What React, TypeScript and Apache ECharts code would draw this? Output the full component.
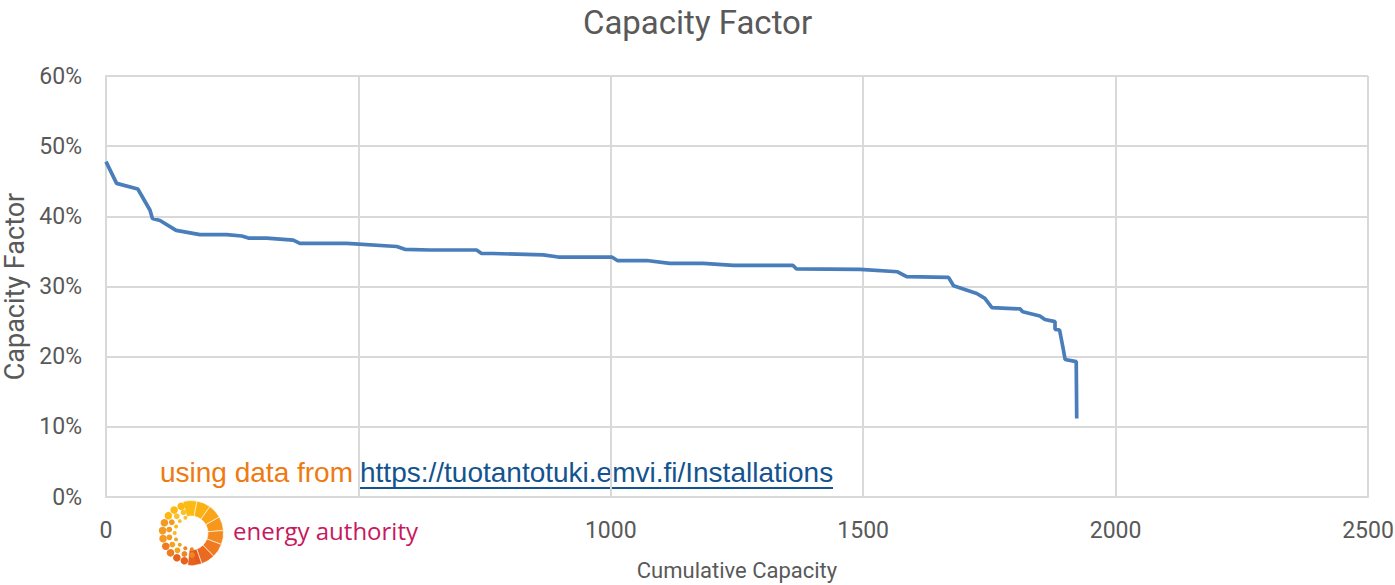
import React, { useEffect, useRef } from "react";
import * as echarts from "echarts";

const chartTitle = "Capacity Factor";
const xAxisName = "Cumulative Capacity";
const yAxisName = "Capacity Factor";
const sourcePrefix = "using data from ";
const sourceUrl = "https://tuotantotuki.emvi.fi/Installations";
const logoText = "energy authority";

// cumulative capacity (x) and capacity factor in % (y)
const capacity = [
  0, 21, 63, 87, 92, 107, 139, 186, 239, 269,
  282, 318, 371, 384, 477, 576, 592, 642, 734, 744,
  767, 866, 896, 1002, 1013, 1071, 1117, 1183, 1243, 1361,
  1368, 1494, 1568, 1586, 1669, 1679, 1725, 1741, 1755, 1811,
  1816, 1850, 1860, 1880, 1880, 1889, 1896, 1900, 1922, 1923,
];
const factor = [
  47.8, 44.7, 43.9, 40.9, 39.7, 39.4, 38.0, 37.4, 37.4, 37.2,
  36.9, 36.9, 36.6, 36.15, 36.15, 35.7, 35.3, 35.2, 35.2, 34.7,
  34.7, 34.5, 34.2, 34.2, 33.7, 33.7, 33.3, 33.3, 33.0, 33.0,
  32.5, 32.45, 32.1, 31.4, 31.3, 30.1, 29.0, 28.3, 27.0, 26.8,
  26.4, 25.8, 25.3, 25.0, 23.9, 23.8, 21.2, 19.6, 19.3, 11.2,
];

const xTicks = { min: 0, max: 2500, interval: 500 };
const yTicks = { min: 0, max: 60, interval: 10 };
// tick label hidden under the logo in the reference
const hiddenXTick = 500;

function buildLogo(cx: number, cy: number) {
  const els: any[] = [];
  const segColors = ["#FDBA12", "#FCB113", "#FAA519", "#F7981D", "#F38A20", "#EF7A22", "#EA6A1F", "#E55B1B"];
  const n = segColors.length;
  const start = -Math.PI / 2 - 0.25;
  const end = Math.PI / 2 + 0.1;
  for (let i = 0; i < n; i++) {
    const a0 = start + ((end - start) * i) / n;
    const a1 = start + ((end - start) * (i + 1)) / n;
    els.push({
      type: "sector",
      shape: { cx, cy, r0: 17, r: 32.5, startAngle: a0, endAngle: a1, clockwise: true },
      style: { fill: segColors[i], stroke: "#ffffff", lineWidth: 0.6 },
      silent: true,
    });
  }
  const rings = [
    { r: 28.5, dr: 3.8, count: 11 },
    { r: 22, dr: 2.9, count: 9 },
    { r: 16.3, dr: 2.0, count: 8 },
  ];
  rings.forEach((ring, ri) => {
    for (let k = 0; k < ring.count; k++) {
      const a = -Math.PI / 2 - 0.35 - ((Math.PI - 0.3) * k) / (ring.count - 1);
      const t = k / (ring.count - 1);
      let fill = "#F39323";
      if (t < 0.25) fill = ri === 0 ? "#FDB813" : "#FBC02D";
      else if (t < 0.55) fill = ri === 2 ? "#FBB81A" : "#F49A22";
      else if (t < 0.8) fill = ri === 0 ? "#EE7A23" : "#F5A21E";
      else fill = ri === 0 ? "#E8621D" : "#F08525";
      els.push({
        type: "circle",
        shape: { cx: cx + Math.cos(a) * ring.r, cy: cy + Math.sin(a) * ring.r, r: ring.dr },
        style: { fill },
        silent: true,
      });
    }
  });
  return els;
}

export default function App() {
  const ref = useRef<HTMLDivElement>(null);
  useEffect(() => {
    if (!ref.current) return;
    const chart = echarts.init(ref.current, null, { renderer: "svg" });
    const data = capacity.map((c, i) => [c, factor[i]]);
    const textColor = "#595959";
    const font = "Roboto, 'Liberation Sans', sans-serif";
    chart.setOption({
      animation: false,
      backgroundColor: "#ffffff",
      title: {
        text: chartTitle,
        left: "center",
        top: 1,
        textStyle: { fontFamily: font, fontSize: 33, fontWeight: "normal", color: textColor },
      },
      grid: { left: 106, right: 27, top: 76, bottom: 88, containLabel: false, outerBoundsMode: "none" },
      xAxis: {
        type: "value",
        min: xTicks.min,
        max: xTicks.max,
        interval: xTicks.interval,
        name: xAxisName,
        nameLocation: "middle",
        nameGap: 62,
        nameTextStyle: { fontFamily: font, fontSize: 22, color: textColor },
        axisLine: { show: true, lineStyle: { color: "#D9D9D9", width: 2 } },
        axisTick: { show: false },
        axisLabel: {
          fontFamily: font,
          fontSize: 23,
          color: textColor,
          margin: 22,
          formatter: (v: number) => (v === hiddenXTick ? "" : String(v)),
        },
        splitLine: { show: true, lineStyle: { color: "#D9D9D9", width: 2 } },
      },
      yAxis: {
        type: "value",
        min: yTicks.min,
        max: yTicks.max,
        interval: yTicks.interval,
        name: yAxisName,
        nameLocation: "middle",
        nameGap: 76,
        nameTextStyle: { fontFamily: font, fontSize: 27, color: textColor },
        axisLine: { show: true, lineStyle: { color: "#D9D9D9", width: 2 } },
        axisTick: { show: false },
        axisLabel: { fontFamily: font, fontSize: 23, color: textColor, margin: 24, formatter: "{value}%" },
        splitLine: { show: true, lineStyle: { color: "#D9D9D9", width: 2 } },
      },
      series: [
        {
          type: "line",
          data,
          showSymbol: false,
          symbol: "none",
          lineStyle: { color: "#4A7EBB", width: 3.7 },
          silent: true,
        },
      ],
      graphic: [
        {
          type: "text",
          left: 160,
          top: 458,
          style: {
            text: sourcePrefix,
            font: "28px 'Liberation Sans', Arial, sans-serif",
            fill: "#EE7A12",
          },
        },
        {
          type: "text",
          left: 360,
          top: 458,
          style: {
            text: sourceUrl,
            font: "28px 'Liberation Sans', Arial, sans-serif",
            fill: "#13538F",
          },
        },
        {
          type: "line",
          shape: { x1: 360, y1: 488, x2: 833, y2: 488 },
          style: { stroke: "#13538F", lineWidth: 1.8 },
        },
        ...buildLogo(191, 533),
        {
          type: "text",
          left: 233,
          top: 518,
          style: {
            text: logoText,
            font: "24px 'Open Sans', 'Noto Sans', sans-serif",
            fill: "#C8185E",
          },
        },
      ],
    });
    return () => chart.dispose();
  }, []);
  return (
    <div
      ref={ref}
      style={{ position: "fixed", left: 0, top: 0, width: 1395, height: 585, background: "#fff" }}
    />
  );
}
